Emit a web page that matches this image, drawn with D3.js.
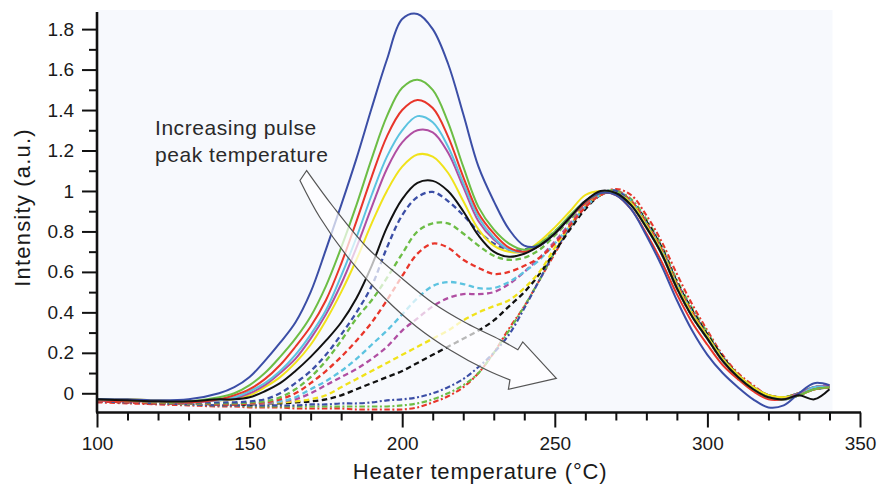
<!DOCTYPE html>
<html>
<head>
<meta charset="utf-8">
<script src="https://cdn.jsdelivr.net/npm/d3@7"></script>
<style>
  html, body { margin: 0; padding: 0; background: #ffffff; }
  svg { display: block; font-family: "Liberation Sans", Arial, Helvetica, sans-serif; }
</style>
</head>
<body>
<svg id="chart" width="879" height="486"></svg>
<script>
// ---- data ----
const temps = [100,110,120,130,140,145,150,155,160,165,170,175,180,185,190,195,200,205,210,215,220,225,230,235,240,245,250,255,260,265,270,275,280,285,290,295,300,305,310,315,320,325,330,335,340];

const blueSolid    = [-0.03,-0.03,-0.035,-0.03,0.0, 0.03,0.08,0.16,0.25,0.35, 0.5,0.71,0.93,1.16,1.41, 1.65,1.85,1.875,1.8,1.63, 1.38,1.12,0.95,0.81,0.73, 0.73,0.79,0.87,0.95,0.99, 0.98,0.91,0.78,0.63,0.46, 0.31,0.19,0.1,0.03,-0.03, -0.07,-0.06,0.0,0.05,0.04];
const greenSolid   = [-0.03,-0.035,-0.04,-0.04,-0.02, 0.0,0.04,0.1,0.18,0.27, 0.38,0.53,0.72,0.93,1.16, 1.37,1.51,1.55,1.5,1.34, 1.12,0.92,0.81,0.74,0.71, 0.74,0.8,0.88,0.95,0.99, 0.99,0.93,0.82,0.69,0.52, 0.38,0.27,0.16,0.08,0.02, -0.02,-0.03,-0.01,0.02,0.03];
const redSolid     = [-0.035,-0.04,-0.04,-0.045,-0.03, -0.01,0.02,0.07,0.14,0.23, 0.33,0.46,0.64,0.85,1.07, 1.27,1.4,1.45,1.41,1.27, 1.07,0.89,0.79,0.72,0.7, 0.73,0.79,0.87,0.94,0.99, 0.98,0.91,0.79,0.65,0.49, 0.35,0.24,0.14,0.07,0.01, -0.03,-0.03,-0.01,0.02,0.03];
const cyanSolid    = [-0.03,-0.035,-0.04,-0.04,-0.035, -0.02,0.01,0.05,0.11,0.19, 0.29,0.41,0.58,0.77,0.98, 1.17,1.3,1.37,1.34,1.22, 1.04,0.87,0.77,0.71,0.7, 0.73,0.79,0.87,0.94,0.99, 0.99,0.93,0.82,0.69,0.52, 0.38,0.27,0.16,0.08,0.02, -0.02,-0.03,-0.01,0.03,0.03];
const magentaSolid = [-0.035,-0.04,-0.04,-0.045,-0.035, -0.025,0.0,0.04,0.1,0.17, 0.27,0.39,0.54,0.72,0.92, 1.11,1.24,1.3,1.29,1.19, 1.02,0.85,0.76,0.71,0.7, 0.73,0.79,0.87,0.95,0.99, 0.99,0.93,0.82,0.69,0.52, 0.38,0.27,0.16,0.08,0.02, -0.02,-0.03,0.0,0.03,0.04];
const yellowSolid  = [-0.03,-0.03,-0.035,-0.04,-0.035, -0.03,-0.01,0.03,0.08,0.15, 0.24,0.36,0.5,0.66,0.84, 1.0,1.12,1.18,1.17,1.09, 0.95,0.81,0.73,0.7,0.7, 0.75,0.82,0.9,0.98,1.0, 0.99,0.94,0.83,0.7,0.53, 0.39,0.28,0.17,0.09,0.03, -0.01,-0.02,-0.01,0.02,0.03];
const blackSolid   = [-0.03,-0.035,-0.04,-0.04,-0.03, -0.03,-0.02,0.01,0.05,0.11, 0.18,0.26,0.35,0.47,0.63, 0.82,0.96,1.04,1.05,1.0, 0.9,0.78,0.7,0.675,0.69, 0.73,0.79,0.87,0.95,1.0, 0.99,0.93,0.82,0.69,0.52, 0.38,0.27,0.16,0.08,0.02, -0.02,-0.03,-0.01,-0.03,0.02];
const blueDashed   = [-0.03,-0.035,-0.04,-0.045,-0.045, -0.045,-0.04,-0.03,0.0,0.05, 0.11,0.19,0.29,0.4,0.53, 0.72,0.88,0.97,0.995,0.95, 0.88,0.8,0.74,0.71,0.71, 0.74,0.8,0.87,0.95,0.99, 1.0,0.94,0.83,0.69,0.52, 0.38,0.27,0.16,0.08,0.02, -0.02,-0.03,-0.01,0.02,0.03];
const greenDashed  = [-0.035,-0.04,-0.045,-0.05,-0.05, -0.05,-0.045,-0.04,-0.02,0.02, 0.08,0.16,0.26,0.37,0.46, 0.57,0.69,0.8,0.84,0.84, 0.79,0.73,0.68,0.66,0.67, 0.71,0.78,0.86,0.94,0.99, 1.0,0.94,0.83,0.7,0.53, 0.39,0.28,0.17,0.09,0.03, -0.01,-0.02,0.0,0.03,0.03];
const redDashed    = [-0.04,-0.045,-0.05,-0.05,-0.055, -0.055,-0.05,-0.045,-0.03,0.0, 0.05,0.11,0.18,0.26,0.35, 0.46,0.58,0.69,0.74,0.72, 0.66,0.62,0.59,0.6,0.63, 0.67,0.74,0.83,0.92,0.98, 1.0,0.95,0.84,0.71,0.54, 0.4,0.28,0.17,0.09,0.03, -0.01,-0.02,0.0,0.02,0.03];
const cyanDashed   = [-0.035,-0.04,-0.045,-0.05,-0.05, -0.05,-0.05,-0.045,-0.04,-0.02, 0.02,0.06,0.11,0.17,0.24, 0.31,0.39,0.47,0.53,0.55, 0.54,0.52,0.52,0.55,0.6, 0.66,0.74,0.83,0.92,0.98, 1.0,0.95,0.84,0.71,0.54, 0.4,0.28,0.17,0.09,0.03, -0.01,-0.02,0.0,0.03,0.03];
const magentaDashed= [-0.04,-0.045,-0.05,-0.05,-0.055, -0.055,-0.05,-0.05,-0.04,-0.03, 0.0,0.04,0.08,0.12,0.17, 0.23,0.31,0.37,0.43,0.47, 0.49,0.49,0.5,0.54,0.6, 0.67,0.75,0.84,0.93,0.98, 1.0,0.95,0.84,0.71,0.54, 0.4,0.28,0.17,0.09,0.03, -0.01,-0.02,0.0,0.03,0.04];
const yellowDashed = [-0.035,-0.04,-0.045,-0.05,-0.05, -0.05,-0.05,-0.05,-0.045,-0.04, -0.03,-0.01,0.03,0.07,0.11, 0.15,0.19,0.23,0.27,0.31, 0.36,0.4,0.43,0.46,0.52, 0.6,0.72,0.83,0.93,0.98, 1.0,0.95,0.84,0.71,0.54, 0.4,0.28,0.17,0.09,0.03, -0.01,-0.02,0.0,0.02,0.03];
const blackDashed  = [-0.04,-0.045,-0.05,-0.05,-0.055, -0.055,-0.055,-0.05,-0.05,-0.045, -0.04,-0.03,-0.01,0.02,0.05, 0.08,0.11,0.15,0.19,0.23, 0.27,0.31,0.36,0.43,0.5, 0.59,0.7,0.81,0.91,0.98, 1.0,0.95,0.85,0.72,0.55, 0.41,0.29,0.18,0.09,0.03, -0.01,-0.02,0.0,0.02,0.03];
const blueDashDot  = [-0.04,-0.045,-0.05,-0.055,-0.06, -0.06,-0.06,-0.06,-0.06,-0.06, -0.055,-0.055,-0.05,-0.05,-0.045, -0.035,-0.03,-0.02,0.0,0.03, 0.07,0.13,0.2,0.29,0.42, 0.56,0.7,0.82,0.92,0.98, 1.0,0.95,0.85,0.72,0.55, 0.41,0.29,0.18,0.09,0.03, -0.01,-0.02,0.0,0.03,0.03];
const greenDashDot = [-0.04,-0.045,-0.05,-0.055,-0.06, -0.06,-0.065,-0.065,-0.065,-0.065, -0.065,-0.065,-0.065,-0.065,-0.065, -0.065,-0.06,-0.05,-0.03,0.0, 0.04,0.1,0.2,0.31,0.43, 0.56,0.7,0.82,0.92,0.98, 1.0,0.96,0.86,0.73,0.56, 0.42,0.3,0.18,0.09,0.03, -0.01,-0.02,0.0,0.03,0.03];
const redDashDot   = [-0.045,-0.05,-0.055,-0.06,-0.065, -0.065,-0.07,-0.07,-0.07,-0.075, -0.075,-0.075,-0.075,-0.08,-0.08, -0.08,-0.08,-0.07,-0.045,-0.015, 0.03,0.1,0.2,0.32,0.43, 0.56,0.69,0.82,0.92,0.98, 1.01,0.98,0.88,0.75,0.59, 0.44,0.31,0.19,0.1,0.04, -0.01,-0.02,0.0,0.03,0.04];

const seriesValues = [redDashDot, greenDashDot, blueDashDot, blackDashed, yellowDashed, magentaDashed, cyanDashed, redDashed, greenDashed, blueDashed,
                      yellowSolid, magentaSolid, cyanSolid, redSolid, greenSolid, blueSolid, blackSolid];
const seriesColors = ["#e8352a","#6cbd45","#3b4ea6","#111111","#f0e21a","#b04ea2","#5cc3e0","#e8352a","#6cbd45","#3b4ea6",
                      "#f0e21a","#b04ea2","#5cc3e0","#e8352a","#6cbd45","#3b4ea6","#111111"];
const seriesStyles = ["dashdot","dashdot","dashdot","dash","dash","dash","dash","dash","dash","dash",
                      "solid","solid","solid","solid","solid","solid","solid"];

const xMajorTicks = [100,150,200,250,300,350];
const xMinorTicks = [110,120,130,140,160,170,180,190,210,220,230,240,260,270,280,290,310,320,330,340];
const yMajorTicks = [0,0.2,0.4,0.6,0.8,1,1.2,1.4,1.6,1.8];
const yMinorTicks = [0.1,0.3,0.5,0.7,0.9,1.1,1.3,1.5,1.7];

const annotationLines = ["Increasing pulse", "peak temperature"];
const xTitle = "Heater temperature (\u00B0C)";
const yTitle = "Intensity (a.u.)";

// arrow outline, in data units
const arrowUpper = [[168.7,1.101],[177.4,0.922],[188.4,0.722],[199.3,0.576],[210.2,0.445],[221.1,0.346],[232.1,0.264],[237.9,0.215]];
const arrowLower = [[166.5,1.052],[173.0,0.870],[182.9,0.659],[193.8,0.477],[204.7,0.329],[215.7,0.214],[227.7,0.115],[235.3,0.066]];
const arrowHead  = [[239.5,0.254],[250.5,0.074],[234.8,0.020]];

// ---- drawing ----
const svg = d3.select("#chart");
const x = d3.scaleLinear().domain([100, 350]).range([97, 860]);
const y = d3.scaleLinear().domain([-0.095, 1.895]).range([412.5, 9.9]);

// plot background
svg.append("rect")
  .attr("x", x(100)).attr("y", y(1.895))
  .attr("width", x(341) - x(100)).attr("height", y(-0.095) - y(1.895))
  .attr("fill", "#f7f9fd");

const line = d3.line()
  .x((d, i) => x(temps[i]))
  .y(d => y(d))
  .curve(d3.curveCatmullRom.alpha(0.5));

const dashes = { solid: null, dash: "5.5,3.5", dashdot: "5.5,2.5,2,2.5" };
const widths = { solid: 2, dash: 2.3, dashdot: 2.1 };

svg.append("g").selectAll("path")
  .data(seriesValues)
  .join("path")
  .attr("d", d => line(d))
  .attr("fill", "none")
  .attr("stroke", (d, i) => seriesColors[i])
  .attr("stroke-width", (d, i) => widths[seriesStyles[i]])
  .attr("stroke-dasharray", (d, i) => dashes[seriesStyles[i]])
  .attr("stroke-linejoin", "round");

// arrow annotation
const aLine = d3.line().x(d => x(d[0])).y(d => y(d[1])).curve(d3.curveCatmullRom.alpha(0.5));
const upperPath = aLine(arrowUpper);
const lowerPath = aLine(arrowLower.slice().reverse()).replace(/^M/, "L");
const headPath = arrowHead.map(p => "L" + x(p[0]) + "," + y(p[1])).join("");
svg.append("path")
  .attr("d", upperPath + headPath + lowerPath + "Z")
  .attr("fill", "#ffffff")
  .attr("fill-opacity", 0.7)
  .attr("stroke", "#555555")
  .attr("stroke-width", 1.2)
  .attr("stroke-linejoin", "miter");

// annotation text
svg.append("g").selectAll("text")
  .data(annotationLines)
  .join("text")
  .attr("x", 155)
  .attr("y", (d, i) => 135 + i * 27)
  .attr("font-size", 21)
  .attr("letter-spacing", 0.55)
  .attr("fill", "#2a2a2a")
  .text(d => d);

// axes
function styleAxis(g) {
  g.select(".domain").remove();
  g.selectAll(".tick line").attr("stroke", "#111").attr("stroke-width", 2);
  g.selectAll(".tick text").attr("fill", "#1a1a1a").attr("font-size", 19)
    .attr("font-family", "'Liberation Sans', Arial, sans-serif");
}

svg.append("g").attr("transform", `translate(0,${y(-0.095)})`)
  .call(d3.axisBottom(x).tickValues(xMinorTicks).tickSize(8).tickFormat(""))
  .call(styleAxis);
svg.append("g").attr("transform", `translate(0,${y(-0.095)})`)
  .call(d3.axisBottom(x).tickValues(xMajorTicks).tickSize(15).tickPadding(9).tickFormat(d3.format("d")))
  .call(styleAxis);

svg.append("g").attr("transform", `translate(${x(100)},0)`)
  .call(d3.axisLeft(y).tickValues(yMinorTicks).tickSize(8).tickFormat(""))
  .call(styleAxis);
svg.append("g").attr("transform", `translate(${x(100)},0)`)
  .call(d3.axisLeft(y).tickValues(yMajorTicks).tickSize(15).tickPadding(8).tickFormat(d => d3.format("")(+d.toFixed(1))))
  .call(styleAxis);

// axis lines
svg.append("line").attr("x1", x(100) - 1).attr("x2", x(350) + 1)
  .attr("y1", y(-0.095)).attr("y2", y(-0.095))
  .attr("stroke", "#111").attr("stroke-width", 2.6);
svg.append("line").attr("x1", x(100)).attr("x2", x(100))
  .attr("y1", y(-0.095)).attr("y2", y(1.885))
  .attr("stroke", "#111").attr("stroke-width", 2.6);

// titles
svg.append("text")
  .attr("x", 480).attr("y", 479)
  .attr("text-anchor", "middle")
  .attr("font-size", 22).attr("letter-spacing", 0.8)
  .attr("fill", "#1a1a1a")
  .text(xTitle);
svg.append("text")
  .attr("transform", "translate(30,207.5) rotate(-90)")
  .attr("text-anchor", "middle")
  .attr("font-size", 22).attr("letter-spacing", 1.2)
  .attr("fill", "#1a1a1a")
  .text(yTitle);
</script>
</body>
</html>
